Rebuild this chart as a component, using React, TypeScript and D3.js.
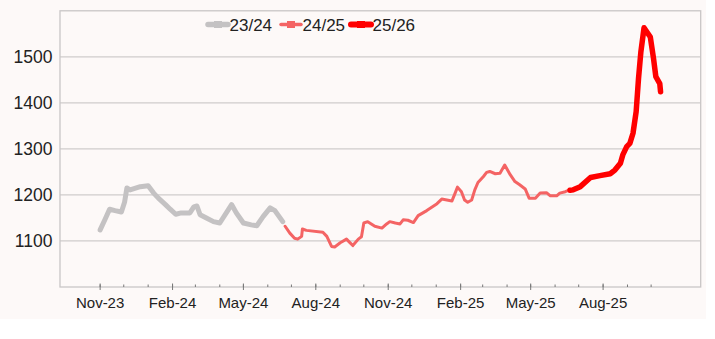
import React from "react";
import * as d3 from "d3";

const season2324: [string, number][] = [
  ["2023-11-01", 1124], ["2023-11-07", 1146], ["2023-11-13", 1169], ["2023-11-20", 1166],
  ["2023-11-28", 1163], ["2023-12-02", 1184], ["2023-12-05", 1215], ["2023-12-09", 1211],
  ["2023-12-22", 1218], ["2024-01-01", 1220], ["2024-01-08", 1204], ["2024-01-14", 1193],
  ["2024-01-23", 1179], ["2024-01-29", 1169], ["2024-02-05", 1158], ["2024-02-12", 1161],
  ["2024-02-23", 1161], ["2024-02-28", 1174], ["2024-03-03", 1176], ["2024-03-07", 1157],
  ["2024-03-15", 1150], ["2024-03-24", 1142], ["2024-04-01", 1139], ["2024-04-16", 1179],
  ["2024-04-22", 1161], ["2024-05-01", 1139], ["2024-05-11", 1135], ["2024-05-18", 1133],
  ["2024-05-26", 1153], ["2024-06-04", 1172], ["2024-06-10", 1166], ["2024-06-20", 1142],
];

const season2425: [string, number][] = [
  ["2024-06-23", 1132], ["2024-06-29", 1117], ["2024-07-05", 1106], ["2024-07-09", 1104],
  ["2024-07-14", 1110], ["2024-07-15", 1126], ["2024-07-20", 1123], ["2024-08-10", 1119],
  ["2024-08-15", 1110], ["2024-08-21", 1088], ["2024-08-25", 1087], ["2024-09-01", 1096],
  ["2024-09-09", 1104], ["2024-09-13", 1097], ["2024-09-17", 1090], ["2024-09-24", 1104],
  ["2024-09-28", 1109], ["2024-10-01", 1139], ["2024-10-06", 1142], ["2024-10-15", 1132],
  ["2024-10-24", 1128], ["2024-10-30", 1137], ["2024-11-03", 1142], ["2024-11-10", 1139],
  ["2024-11-16", 1137], ["2024-11-20", 1146], ["2024-11-26", 1145], ["2024-12-03", 1140],
  ["2024-12-09", 1155], ["2024-12-20", 1166], ["2025-01-02", 1181], ["2025-01-08", 1191],
  ["2025-01-21", 1187], ["2025-01-25", 1204], ["2025-01-28", 1217], ["2025-02-02", 1207],
  ["2025-02-06", 1189], ["2025-02-10", 1184], ["2025-02-15", 1189], ["2025-02-19", 1211],
  ["2025-02-23", 1227], ["2025-03-02", 1240], ["2025-03-06", 1249], ["2025-03-10", 1251],
  ["2025-03-17", 1246], ["2025-03-23", 1247], ["2025-03-29", 1265], ["2025-04-05", 1244],
  ["2025-04-11", 1229], ["2025-04-17", 1222], ["2025-04-24", 1213], ["2025-04-29", 1193],
  ["2025-05-07", 1193], ["2025-05-13", 1204], ["2025-05-21", 1205], ["2025-05-26", 1198],
  ["2025-06-03", 1198], ["2025-06-07", 1204], ["2025-06-14", 1207], ["2025-06-18", 1210],
];

const season2526: [string, number][] = [
  ["2025-06-20", 1210], ["2025-06-24", 1211], ["2025-07-03", 1218], ["2025-07-16", 1238],
  ["2025-07-28", 1242], ["2025-08-10", 1246], ["2025-08-16", 1254], ["2025-08-23", 1269],
  ["2025-08-26", 1287], ["2025-08-31", 1305], ["2025-09-04", 1312], ["2025-09-08", 1334],
  ["2025-09-12", 1381], ["2025-09-15", 1453], ["2025-09-18", 1511], ["2025-09-22", 1563],
  ["2025-09-30", 1543], ["2025-10-04", 1497], ["2025-10-07", 1457], ["2025-10-12", 1442],
  ["2025-10-13", 1424],
];

const seriesNames = ["23/24", "24/25", "25/26"];
const seriesColors = ["#c4c2c3", "#f46464", "#ff0000"];
const seriesWidths = [5, 3, 5.5];
const seriesData = [season2324, season2425, season2526];

const yTicks = [1100, 1200, 1300, 1400, 1500];
const xLabelMonths = ["2023-11-01", "2024-02-01", "2024-05-01", "2024-08-01", "2024-11-01", "2025-02-01", "2025-05-01", "2025-08-01"];

const W = 715;
const H = 339;
const FONT = "'Liberation Sans', Arial, sans-serif";

export default function App() {
  const parse = d3.timeParse("%Y-%m-%d");
  const x = d3.scaleTime()
    .domain([new Date(2023, 8, 11), new Date(2025, 11, 3)])
    .range([60, 700.7]);
  const y = d3.scaleLinear().domain([1000, 1600]).range([287, 10.8]);
  const left = 60, right = 700.7, top = 10.8, bottom = 287;

  const line = d3.line<[string, number]>()
    .x((d) => x(parse(d[0]) as Date))
    .y((d) => y(d[1]));

  const minorTicks = d3.timeMonth.range(new Date(2023, 10, 1), new Date(2025, 10, 1));
  const majorDates = xLabelMonths.map((s) => parse(s) as Date);
  const fmt = d3.timeFormat("%b-%y");

  const legendItems = [
    { x: 208 }, { x: 281 }, { x: 351 },
  ];

  return (
    <svg width={W} height={H} style={{ position: "absolute", left: 0, top: 0, background: "#ffffff" }}>
      <rect x={0} y={0} width={706} height={319} fill="#fdf9f8" />
      {yTicks.map((t) => (
        <line key={t} x1={left} x2={right} y1={y(t)} y2={y(t)} stroke="#cfcccc" strokeWidth={1.3} />
      ))}
      <rect x={left} y={top} width={right - left} height={bottom - top} fill="none" stroke="#c9c6c6" strokeWidth={1.3} />
      {yTicks.map((t) => (
        <text key={t} x={52.5} y={y(t)} dy="0.36em" textAnchor="end" fontFamily={FONT} fontSize={17.5} fill="#222">
          {t}
        </text>
      ))}
      {minorTicks.map((d, i) => (
        <line key={i} x1={x(d)} x2={x(d)} y1={bottom - 2.5} y2={bottom} stroke="#777" strokeWidth={1} />
      ))}
      {majorDates.map((d, i) => (
        <g key={i}>
          <line x1={x(d)} x2={x(d)} y1={bottom - 3.5} y2={bottom + 3} stroke="#777" strokeWidth={1} />
          <text x={x(d)} y={307.5} textAnchor="middle" fontFamily={FONT} fontSize={15} fill="#222">
            {fmt(d)}
          </text>
        </g>
      ))}
      {seriesData.map((s, i) => (
        <path key={i} d={line(s) || ""} fill="none" stroke={seriesColors[i]} strokeWidth={seriesWidths[i]}
          strokeLinejoin="round" strokeLinecap="round" />
      ))}
      {legendItems.map((it, i) => (
        <g key={i}>
          <line x1={it.x} x2={it.x + 20} y1={24.5} y2={24.5} stroke={seriesColors[i]} strokeWidth={seriesWidths[i] + 0.5} strokeLinecap="round" />
          <rect x={it.x + 6} y={21} width={8} height={7} fill={seriesColors[i]} />
          <text x={it.x + 21.5} y={30.5} fontFamily={FONT} fontSize={17} fill="#222">{seriesNames[i]}</text>
        </g>
      ))}
    </svg>
  );
}
